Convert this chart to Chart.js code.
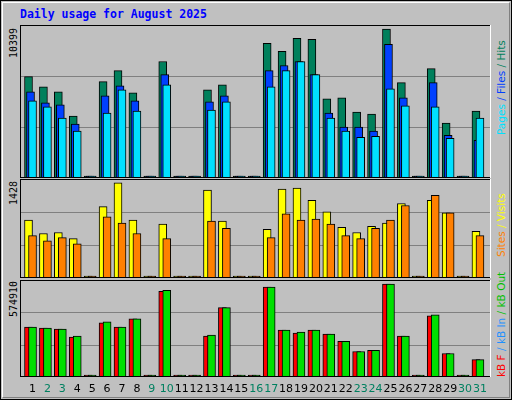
<!DOCTYPE html>
<html>
<head>
<meta charset="utf-8">
<script src="https://cdn.jsdelivr.net/npm/chart.js@4"></script>
<style>
body { margin: 0; background: #fff; }
#frame { position: absolute; left: 0; top: 0; width: 510px; height: 398px; background: #c0c0c0;
  border: 1px solid #000; }
#inner { position: absolute; left: 1px; top: 1px; width: 506px; height: 394px;
  border-left: 1px solid #fff; border-top: 1px solid #fff; border-right: 1px solid #808080; border-bottom: 1px solid #808080; }
.panel { position: absolute; }
.rot { position: absolute; font-family: 'DejaVu Sans Mono', monospace; font-size: 10px; white-space: nowrap;
  transform: rotate(-90deg); transform-origin: left top; }
.leg { font-family: 'DejaVu Sans', sans-serif; font-size: 10.5px; }
#title { position: absolute; left: 20px; top: 7px; font: bold 11.5px 'DejaVu Sans Mono', monospace; color: #0000ff; }
</style>
</head>
<body>
<div id="frame"><div id="inner"></div></div>
<div id="title">Daily usage for August 2025</div>

<canvas id="c1" class="panel" style="left:20px;top:25px;width:471px;height:153px"></canvas>
<canvas id="c2" class="panel" style="left:20px;top:179px;width:471px;height:99px"></canvas>
<canvas id="c3" class="panel" style="left:20px;top:280px;width:471px;height:120px"></canvas>

<div class="rot" style="left:8px;top:58px;color:#000">10399</div>
<div class="rot" style="left:8px;top:205px;color:#000">1428</div>
<div class="rot" style="left:8px;top:317px;color:#000">574910</div>

<div class="rot leg" style="left:495px;top:135px"><span style="color:#00e0ff">Pages</span> <span style="color:#0040ff">/</span> <span style="color:#0040ff">Files</span> <span style="color:#00805c">/</span> <span style="color:#00805c">Hits</span></div>
<div class="rot leg" style="left:495px;top:257px"><span style="color:#ff8000">Sites</span> <span style="color:#ffff00">/</span> <span style="color:#ffff00">Visits</span></div>
<div class="rot leg" style="left:495px;top:377px"><span style="color:#ff0000">kB F</span> <span style="color:#1e90ff">/</span> <span style="color:#1e90ff">kB In</span> <span style="color:#00c000">/</span> <span style="color:#00c000">kB Out</span></div>

<script>
const days = [1,2,3,4,5,6,7,8,9,10,11,12,13,14,15,16,17,18,19,20,21,22,23,24,25,26,27,28,29,30,31];
const weekendDays = [2,3,9,10,16,17,23,24,30,31];

const hits  = [7082,6377,6024,4330,0,6730,7506,5953,0,8141,0,0,6165,6518,0,0,9412,8847,9765,9694,5530,5600,4612,4471,10399,6659,0,7647,3835,0,4682];
const files = [6024,5247,5106,3765,0,5741,6447,5388,0,7224,0,0,5318,5741,0,0,7506,7859,8141,7224,4541,3553,3553,3271,9341,5600,0,6659,2988,0,2635];
const pages = [5388,4965,4188,3271,0,4541,6165,4682,0,6518,0,0,4753,5318,0,0,6377,7506,8141,7224,4188,3271,2847,2918,6235,5035,0,4965,2776,0,4188];

const visits = [869,667,683,590,0,1071,1428,869,0,807,0,0,1319,854,0,0,730,1335,1350,1164,993,761,683,776,823,1118,0,1164,978,0,699];
const sites  = [636,559,605,512,0,916,823,667,0,590,0,0,854,745,0,0,605,962,869,885,807,636,590,745,869,1087,0,1242,978,0,636];

const kbF   = [309582,303264,296946,246402,0,334854,309582,360126,0,530712,0,0,252720,429624,0,0,555984,290628,271674,290628,265356,221130,157950,164268,574910,252720,0,379080,145314,0,107406];
const kbOut = [309582,303264,296946,252720,0,341172,309582,360126,0,537030,0,0,259038,429624,0,0,555984,290628,277992,290628,265356,221130,157950,164268,574910,252720,0,385398,145314,0,107406];

// panel maxima (labels at left), scales have some headroom above
const topMax = 10399, midMax = 1428, botMax = 574910;

// x range so that the front bar sits over the day label; other bars shifted left
const xMin = 0.161, xMax = 31.74, dayPx = 14.9;
function xAxis(shiftPx) {
    const s = shiftPx / dayPx;
    return { type: 'linear', display: false, offset: false, min: xMin + s, max: xMax + s };
}

const gridAndFrame = {
    id: 'gridAndFrame',
    beforeDatasetsDraw(chart) {
        const ctx = chart.ctx, a = chart.chartArea, y = chart.scales.y;
        ctx.save();
        ctx.strokeStyle = '#808080';
        ctx.lineWidth = 1;
        [1 / 3, 2 / 3].forEach(function(f) {
            const py = Math.round(y.getPixelForValue(y.max * f)) + 0.5;
            ctx.beginPath();
            ctx.moveTo(a.left, py);
            ctx.lineTo(a.right, py);
            ctx.stroke();
        });
        ctx.restore();
    },
    afterDraw(chart) {
        const ctx = chart.ctx, a = chart.chartArea;
        ctx.save();
        ctx.strokeStyle = '#000';
        ctx.lineWidth = 1;
        ctx.strokeRect(a.left + 0.5, a.top + 0.5, a.right - a.left - 1, a.bottom - a.top - 1);
        ctx.strokeStyle = '#fff';
        ctx.beginPath();
        ctx.moveTo(a.right - 0.5, a.top);
        ctx.lineTo(a.right - 0.5, a.bottom);
        ctx.stroke();
        ctx.restore();
    }
};

const dayLabels = {
    id: 'dayLabels',
    afterDraw(chart) {
        const ctx = chart.ctx, x = chart.scales.xl;
        ctx.save();
        ctx.font = '11px "DejaVu Sans"';
        ctx.textAlign = 'center';
        ctx.textBaseline = 'middle';
        days.forEach(function(d) {
            ctx.fillStyle = weekendDays.includes(d) ? '#008060' : '#000';
            ctx.fillText(String(d), x.getPixelForValue(d), chart.chartArea.bottom + 12);
        });
        ctx.restore();
    }
};

function bars(label, values, color, axis, order) {
    return {
        label: label,
        data: days.map((d, i) => ({ x: d, y: values[i] })),
        backgroundColor: color,
        borderColor: '#000',
        borderWidth: 1,
        borderSkipped: false,
        barThickness: 8,
        minBarLength: 2,
        grouped: false,
        xAxisID: axis,
        order: order
    };
}

function baseOptions(yMax, extraScales, padBottom) {
    const scales = Object.assign({
        y: { display: false, min: 0, max: yMax }
    }, extraScales);
    return {
        responsive: false,
        animation: false,
        layout: { padding: { left: 0, right: 0, top: 0, bottom: padBottom || 0 } },
        plugins: { legend: { display: false }, tooltip: { enabled: false } },
        scales: scales
    };
}

function makeChart(id, w, h, datasets, opts, plugins) {
    const el = document.getElementById(id);
    el.width = w;
    el.height = h;
    return new Chart(el.getContext('2d'), {
        type: 'bar',
        data: { datasets: datasets },
        options: opts,
        plugins: plugins
    });
}

// Hits / Files / Pages
makeChart('c1', 471, 153, [
    bars('Hits', hits, '#00805c', 'xa', 3),
    bars('Files', files, '#0040ff', 'xb', 2),
    bars('Pages', pages, '#00e0ff', 'xc', 1)
], baseOptions(topMax * 1.028, { xa: xAxis(4), xb: xAxis(2), xc: xAxis(0) }), [gridAndFrame]);

// Visits / Sites
makeChart('c2', 471, 99, [
    bars('Visits', visits, '#ffff00', 'xa', 2),
    bars('Sites', sites, '#ff8000', 'xc', 1)
], baseOptions(midMax * 1.04, { xa: xAxis(4), xc: xAxis(0) }), [gridAndFrame]);

// kB F / kB Out
makeChart('c3', 471, 120, [
    bars('kB F', kbF, '#ff0000', 'xa', 2),
    bars('kB Out', kbOut, '#00e000', 'xc', 1)
], baseOptions(botMax * 1.044, { xa: xAxis(4), xc: xAxis(0), xl: xAxis(0) }, 23), [gridAndFrame, dayLabels]);
</script>
</body>
</html>
